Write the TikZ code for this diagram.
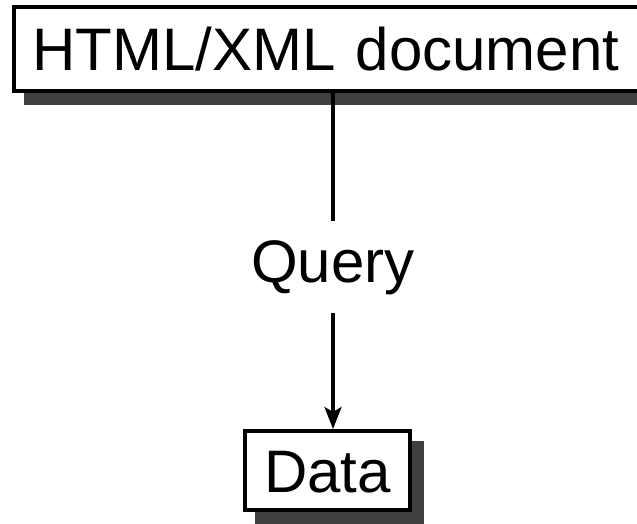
\documentclass[tikz,border=0pt]{standalone}
\usepackage{fontspec}
\setmainfont{Liberation Sans}
\usetikzlibrary{shadows,arrows.meta}
\definecolor{shadowgray}{RGB}{64,64,64}
\begin{document}
\begin{tikzpicture}[x=1pt,y=1pt,
  labelfont/.style={font=\fontsize{60}{72}\selectfont, text height=43pt},
  box/.style={labelfont, draw=black, line width=4pt, fill=white,
    text depth=0pt,
    drop shadow={shadow xshift=12pt, shadow yshift=-12pt,
      fill=shadowgray, draw=shadowgray, line width=4pt, opacity=1}},
  conn/.style={draw=black, line width=3.5pt},
  tip/.style={-{Stealth[length=22pt, width=17pt, inset=5pt]}}
]
\useasboundingbox (0,0) rectangle (637,-523);

% source document box, running past the right edge
\node[box, inner xsep=18.3pt, inner ysep=20.5pt, text width=599.4pt, align=left]
  (doc) at (332,-49) {HTML/XML document};

% label in the middle of the connector
\node[labelfont, text depth=13pt, inner xsep=0pt, inner ysep=18pt]
  (query) at (333,-267) {Query};

% result box
\node[box, inner xsep=0pt, inner ysep=18pt, minimum width=165pt]
  (data) at (327.5,-470.5) {Data};

\draw[conn] (doc.south -| query.north) -- (query.north);
\draw[conn, tip] (query.south) -- (data.north -| query.south);
\end{tikzpicture}
\end{document}
